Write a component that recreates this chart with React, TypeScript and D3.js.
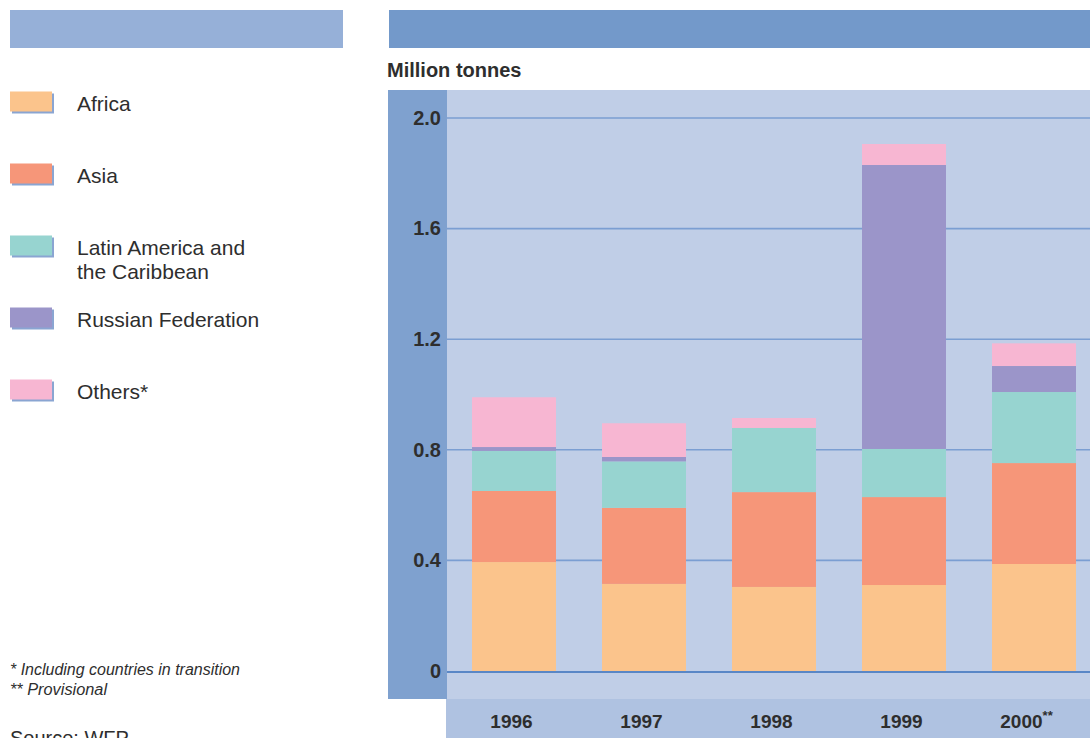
import React from "react";
import * as d3 from "d3";

const years = ["1996", "1997", "1998", "1999", "2000"];
const yearNotes = ["", "", "", "", "**"];
const seriesNames = ["Africa", "Asia", "Latin America and the Caribbean", "Russian Federation", "Others*"];
const legendLines = [["Africa"], ["Asia"], ["Latin America and", "the Caribbean"], ["Russian Federation"], ["Others*"]];
const africa = [0.394, 0.315, 0.304, 0.311, 0.387];
const asia = [0.257, 0.275, 0.343, 0.318, 0.365];
const latinAmerica = [0.145, 0.168, 0.232, 0.174, 0.257];
const russia = [0.014, 0.016, 0.0, 1.027, 0.094];
const others = [0.18, 0.122, 0.036, 0.076, 0.082];
const yTicks = [0, 0.4, 0.8, 1.2, 1.6, 2.0];
const colors = ["#FBC48C", "#F69679", "#97D4D0", "#9B95C9", "#F7B6D2"];
const footnotes = ["* Including countries in transition", "** Provisional"];
const sourceText = "Source:  WFP";
const unitLabel = "Million tonnes";

const FONT = "'Liberation Sans', Arial, sans-serif";
const TEXT = "#2e2e2e";

export default function App() {
  const W = 1090, H = 738;
  const values = [africa, asia, latinAmerica, russia, others];
  const rows = years.map((y, i) => {
    const r: any = { year: y };
    seriesNames.forEach((s, k) => (r[s] = values[k][i]));
    return r;
  });
  const stacked = d3.stack<any>().keys(seriesNames)(rows);

  const x = d3.scaleBand<string>().domain(years).range([449, 1099]).paddingInner(0.354).paddingOuter(0.177);
  const y = d3.scaleLinear().domain([0, 2.0]).range([671, 118]);

  const plotLeft = 447, plotTop = 90, plotBottom = 699, plotRight = W;

  return (
    <svg width={W} height={H} style={{ position: "absolute", left: 0, top: 0, display: "block" }} fontFamily={FONT}>
      <rect x={0} y={0} width={W} height={H} fill="#ffffff" />
      {/* header bars */}
      <rect x={10} y={10} width={333} height={38} fill="#96B0D8" />
      <rect x={389} y={10} width={W - 389} height={38} fill="#7399CA" />

      {/* legend */}
      {legendLines.map((lines, i) => {
        const base = 111 + i * 72;
        return (
          <g key={i}>
            <rect x={12} y={base - 19.5 + 2} width={42} height={20} fill="#8AA5D2" />
            <rect x={10} y={base - 19.5} width={42} height={20} fill={colors[i]} />
            <text x={77} y={base} fontSize={21} fill={TEXT}>
              {lines.map((l, j) => (
                <tspan key={j} x={77} dy={j === 0 ? 0 : 24}>{l}</tspan>
              ))}
            </text>
          </g>
        );
      })}

      {/* footnotes */}
      <text x={10} y={674.5} fontSize={16} fontStyle="italic" fill={TEXT} textLength={230} lengthAdjust="spacingAndGlyphs">{footnotes[0]}</text>
      <text x={10} y={695} fontSize={16} fontStyle="italic" fill={TEXT} textLength={97} lengthAdjust="spacingAndGlyphs">{footnotes[1]}</text>
      <text x={10} y={745} fontSize={20} fill={TEXT}>{sourceText}</text>

      {/* unit label */}
      <text x={387} y={77} fontSize={20} fontWeight="bold" fill={TEXT}>{unitLabel}</text>

      {/* panels */}
      <rect x={388} y={plotTop} width={plotLeft - 388} height={plotBottom - plotTop} fill="#7FA1CF" />
      <rect x={plotLeft} y={plotTop} width={plotRight - plotLeft} height={plotBottom - plotTop} fill="#C0CEE7" />
      <rect x={446} y={plotBottom} width={W - 446} height={H - plotBottom} fill="#AFC2E1" />

      {/* gridlines */}
      {yTicks.filter((t) => t > 0).map((t) => (
        <line key={t} x1={plotLeft} x2={plotRight} y1={y(t)} y2={y(t)} stroke="#7B9ED2" strokeWidth={1.6} />
      ))}

      {/* bars */}
      {stacked.map((layer, k) => (
        <g key={k} fill={colors[k]}>
          {layer.map((d, i) => {
            const h = y(d[0]) - y(d[1]);
            if (h <= 0) return null;
            return <rect key={i} x={x(years[i])} y={y(d[1])} width={x.bandwidth()} height={h} />;
          })}
        </g>
      ))}

      {/* zero line */}
      <line x1={plotLeft} x2={plotRight} y1={y(0) + 1} y2={y(0) + 1} stroke="#5A87C6" strokeWidth={2} />

      {/* y tick labels */}
      {yTicks.map((t) => (
        <text key={t} x={441} y={y(t) + 6.8} textAnchor="end" fontSize={20} fontWeight="bold" fill={TEXT}>
          {t === 0 ? "0" : d3.format(".1f")(t)}
        </text>
      ))}

      {/* x labels */}
      {years.map((yr, i) => (
        <text key={yr} x={(x(yr) as number) + x.bandwidth() / 2 - (yearNotes[i] ? 7.5 : 2.5)} y={727.7} textAnchor="middle" fontSize={19} fontWeight="bold" fill={TEXT}>
          {yr}
          {yearNotes[i] ? <tspan dy={-8} fontSize={13}>{yearNotes[i]}</tspan> : null}
        </text>
      ))}
    </svg>
  );
}
